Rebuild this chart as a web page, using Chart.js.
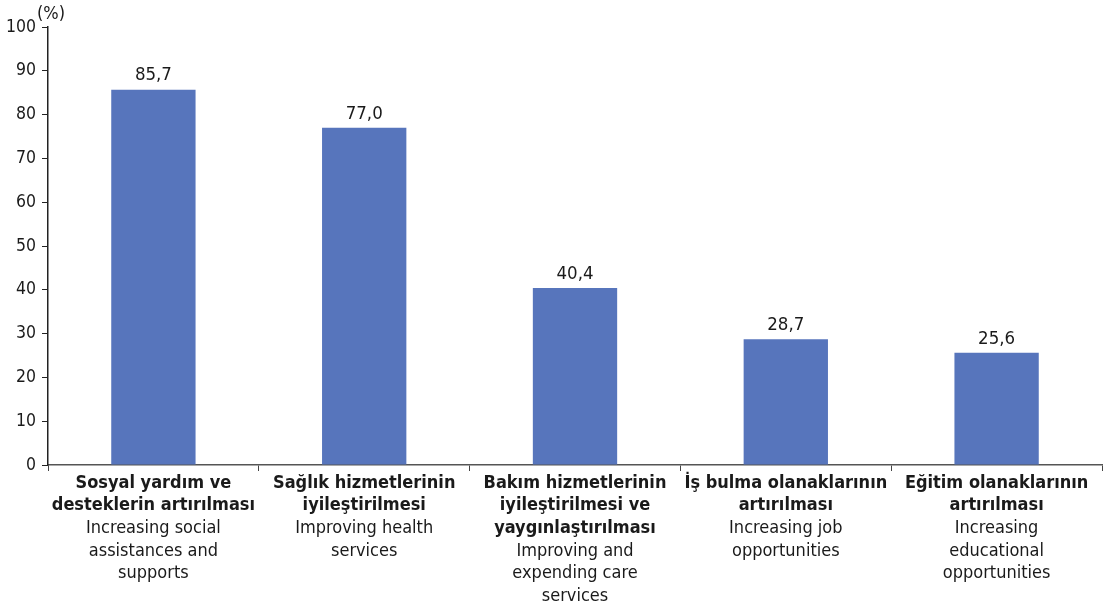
<!DOCTYPE html>
<html><head><meta charset="utf-8">
<script src="https://cdn.jsdelivr.net/npm/chart.js@4"></script>
<style>html,body{margin:0;padding:0;background:#fff}#wrap{width:1108px;height:610px}</style>
</head><body><div id="wrap"><canvas id="c"></canvas></div>
<script>
const labelsTR = [
  ["Sosyal yardım ve", "desteklerin artırılması"],
  ["Sağlık hizmetlerinin", "iyileştirilmesi"],
  ["Bakım hizmetlerinin", "iyileştirilmesi ve", "yaygınlaştırılması"],
  ["İş bulma olanaklarının", "artırılması"],
  ["Eğitim olanaklarının", "artırılması"]
];
const labelsEN = [
  ["Increasing social", "assistances and", "supports"],
  ["Improving health", "services"],
  ["Improving and", "expending care", "services"],
  ["Increasing job", "opportunities"],
  ["Increasing", "educational", "opportunities"]
];
const values = [85.7, 77.0, 40.4, 28.7, 25.6];
const yTicks = [0,10,20,30,40,50,60,70,80,90,100];
const unitLabel = "(%)";

const FONT = "'DejaVu Sans Condensed', 'DejaVu Sans', sans-serif";
const TXT = "#1a1a1a";

const labelPlugin = {
  id: 'labels',
  afterDraw(chart) {
    const ctx = chart.ctx;
    const x = chart.scales.x, y = chart.scales.y;
    ctx.save();
    ctx.fillStyle = TXT;
    ctx.textAlign = 'center';
    ctx.textBaseline = 'middle';
    ctx.font = "18.5px " + FONT;
    const meta = chart.getDatasetMeta(0);
    meta.data.forEach((bar, i) => {
      ctx.fillText(values[i].toFixed(1).replace('.', ','), bar.x, bar.y - 14);
    });
    const lh = 22.7;
    labelsTR.forEach((lines, i) => {
      const cx = x.getPixelForValue(i);
      let yy = x.top + 18;
      ctx.font = "bold 18px " + FONT;
      lines.forEach(l => { ctx.fillText(l, cx, yy); yy += lh; });
      ctx.font = "18px " + FONT;
      labelsEN[i].forEach(l => { ctx.fillText(l, cx, yy); yy += lh; });
    });
    ctx.font = "18px " + FONT;
    ctx.fillText(unitLabel, 51, y.top - 13);
    ctx.restore();
  }
};

new Chart(document.getElementById('c'), {
  type: 'bar',
  data: {
    labels: labelsTR.map(l => l.join(' ')),
    datasets: [{ data: values, backgroundColor: '#5775BC', barPercentage: 0.8, categoryPercentage: 0.5 }]
  },
  options: {
    responsive: true, maintainAspectRatio: false, animation: false,
    layout: { padding: { top: 27, right: 6, bottom: 0, left: 0 } },
    plugins: { legend: { display: false }, tooltip: { enabled: false } },
    scales: {
      x: {
        grid: { offset: true, drawOnChartArea: false, drawTicks: true, tickLength: 6, color: '#444' },
        border: { color: '#555', width: 1.5 },
        ticks: { display: false },
        afterFit(s) { s.height = 145; }
      },
      y: {
        min: 0, max: 100,
        afterBuildTicks(s) { s.ticks = yTicks.map(v => ({ value: v })); },
        grid: { drawOnChartArea: false, drawTicks: true, tickLength: 6, color: '#222' },
        border: { color: '#222', width: 1.5 },
        ticks: { color: TXT, font: { family: FONT, size: 17.5 }, padding: 6 },
        afterFit(s) { s.width = 48; }
      }
    }
  },
  plugins: [labelPlugin]
});
</script></body></html>
